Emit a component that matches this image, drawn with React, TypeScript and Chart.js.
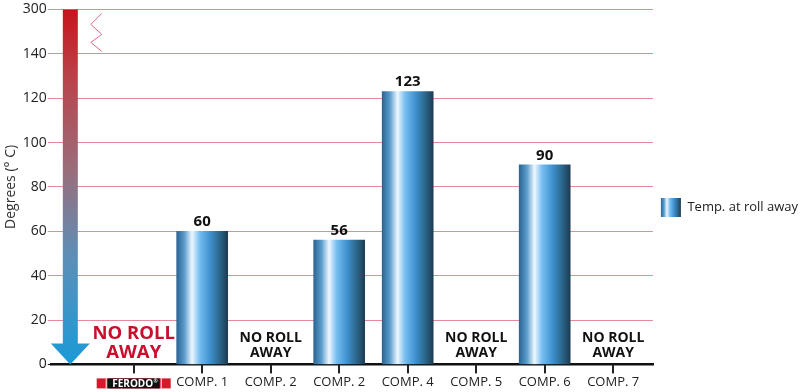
import React, { useEffect, useRef } from 'react';
import { Chart, registerables } from 'chart.js';

Chart.register(...registerables);

// ---------- data ----------
const categories = ['FERODO', 'COMP. 1', 'COMP. 2', 'COMP. 2', 'COMP. 4', 'COMP. 5', 'COMP. 6', 'COMP. 7'];
const tempAtRollAway: (number | null)[] = [null, 60, null, 56, 123, null, 90, null];
const seriesLabel = 'Temp. at roll away';
const yTickValues = [0, 20, 40, 60, 80, 100, 120, 140, 160];
const yTickLabels = ['0', '20', '40', '60', '80', '100', '120', '140', '300'];
const yTitle = 'Degrees (° C)';
const noRollAwayLines = ['NO ROLL', 'AWAY'];
const logoText = 'FERODO';

const FONT = "'Open Sans', 'Noto Sans', sans-serif";
const LEGEND_BOX_W = 20;
const LEGEND_BOX_H = 19;
const BAR_W = 51;

function barGradient(ctx: CanvasRenderingContext2D, x0: number, x1: number) {
  const g = ctx.createLinearGradient(x0, 0, x1, 0);
  g.addColorStop(0, '#2b6594');
  g.addColorStop(0.15, '#5a9ccc');
  g.addColorStop(0.3, '#eef7ff');
  g.addColorStop(0.45, '#76bdf0');
  g.addColorStop(0.65, '#3f92d0');
  g.addColorStop(0.85, '#2a6488');
  g.addColorStop(1, '#1d3d52');
  return g;
}

const decorPlugin = {
  id: 'decor',
  beforeDraw(chart: any) {
    const lg = chart.legend;
    if (lg && lg.legendHitBoxes && lg.legendItems && lg.legendHitBoxes[0]) {
      const hb = lg.legendHitBoxes[0];
      lg.legendItems[0].fillStyle = barGradient(chart.ctx, hb.left, hb.left + LEGEND_BOX_W);
    }
  },
  beforeDatasetDraw(chart: any) {
    // temperature arrow + scale break
    const ctx = chart.ctx as CanvasRenderingContext2D;
    const { left, top } = chart.chartArea;
    const ys = chart.scales.y;
    const y0 = ys.getPixelForValue(0);
    const yTop = ys.getPixelForValue(160);
    const headTop = y0 - 21;
    ctx.save();
    const g = ctx.createLinearGradient(0, yTop, 0, y0);
    g.addColorStop(0, '#c8141c');
    g.addColorStop(0.2, '#b8454c');
    g.addColorStop(0.45, '#9a6d7a');
    g.addColorStop(0.7, '#5c8fb8');
    g.addColorStop(1, '#1a9ad8');
    ctx.fillStyle = g;
    ctx.beginPath();
    ctx.moveTo(left + 12, yTop);
    ctx.lineTo(left + 27, yTop);
    ctx.lineTo(left + 27, headTop);
    ctx.lineTo(left + 39, headTop);
    ctx.lineTo(left + 19.5, y0);
    ctx.lineTo(left + 0, headTop);
    ctx.lineTo(left + 12, headTop);
    ctx.closePath();
    ctx.fill();
    // zigzag break
    ctx.strokeStyle = '#d76a7a';
    ctx.lineWidth = 1;
    ctx.beginPath();
    ctx.moveTo(left + 51, top + 4);
    ctx.lineTo(left + 40, top + 15);
    ctx.lineTo(left + 51, top + 25);
    ctx.lineTo(left + 40, top + 33);
    ctx.lineTo(left + 51, top + 42);
    ctx.stroke();
    ctx.restore();
  },
  afterDraw(chart: any) {
    const ctx = chart.ctx as CanvasRenderingContext2D;
    const xs = chart.scales.x;
    const ys = chart.scales.y;
    const y0 = ys.getPixelForValue(0);
    ctx.save();
    // category tick marks
    ctx.fillStyle = '#222';
    categories.forEach((c, i) => {
      const x = Math.round(xs.getPixelForValue(i + 1));
      ctx.fillRect(x - 1, y0, 2, 9);
    });
    ctx.textAlign = 'center';
    // value labels
    const meta = chart.getDatasetMeta(0);
    ctx.fillStyle = '#111';
    ctx.font = `bold 15px ${FONT}`;
    ctx.textBaseline = 'alphabetic';
    meta.data.forEach((el: any, i: number) => {
      const v = tempAtRollAway[i];
      if (v == null) return;
      const p = el.getProps(['x', 'y'], true);
      ctx.fillText(String(v), p.x, p.y - 5);
    });
    // NO ROLL AWAY
    ctx.textBaseline = 'middle';
    tempAtRollAway.forEach((v, i) => {
      if (v != null) return;
      const x = xs.getPixelForValue(i + 1);
      if (i === 0) {
        ctx.fillStyle = '#c8102e';
        ctx.font = `bold 18.5px ${FONT}`;
        ctx.fillText(noRollAwayLines[0], x, y0 - 31);
        ctx.fillText(noRollAwayLines[1], x, y0 - 12);
      } else {
        ctx.fillStyle = '#111';
        ctx.font = `bold 14px ${FONT}`;
        ctx.fillText(noRollAwayLines[0], x, y0 - 26);
        ctx.fillText(noRollAwayLines[1], x, y0 - 11);
      }
    });
    // logo in place of first category label
    const lx = xs.getPixelForValue(1);
    const ly = y0 + 14;
    ctx.fillStyle = '#d41a2a';
    ctx.fillRect(lx - 37, ly, 74, 10);
    ctx.fillStyle = '#ffffff';
    ctx.fillRect(lx - 28, ly, 1, 10);
    ctx.fillRect(lx + 27, ly, 1, 10);
    ctx.fillStyle = '#111';
    ctx.fillRect(lx - 26, ly, 52, 10);
    ctx.fillStyle = '#ffffff';
    ctx.font = `bold 10px ${FONT}`;
    ctx.textBaseline = 'middle';
    ctx.fillText(logoText, lx - 1, ly + 5.5);
    ctx.font = `bold 5px ${FONT}`;
    ctx.fillText('®', lx + 22, ly + 3);
    ctx.restore();
  },
};

export default function App() {
  const ref = useRef<HTMLCanvasElement | null>(null);
  useEffect(() => {
    document.body.style.margin = '0';
    const canvas = ref.current;
    if (!canvas) return;
    Chart.defaults.font.family = FONT;
    const chart = new Chart(canvas, {
      type: 'bar',
      data: {
        datasets: [
          {
            label: seriesLabel,
            data: categories.map((c, i) => ({ x: i + 1, y: tempAtRollAway[i] })) as any,
            backgroundColor: (c: any) => {
              const xs = c.chart.scales && c.chart.scales.x;
              if (c.type !== 'data' || !xs || !isFinite(xs.left)) return '#3f92d0';
              const x = xs.getPixelForValue(c.dataIndex + 1);
              if (!isFinite(x)) return '#3f92d0';
              return barGradient(c.chart.ctx, x - BAR_W / 2, x + BAR_W / 2);
            },
            borderWidth: 0,
            barThickness: BAR_W,
          },
        ],
      },
      options: {
        responsive: false,
        animation: false,
        layout: { padding: { left: 3, top: 0, right: -8, bottom: 0 } },
        plugins: {
          legend: {
            position: 'right',
            align: 'center',
            title: { display: true, text: '', font: { size: 10, lineHeight: 1 }, padding: { top: 13, bottom: 0 } },
            labels: {
              boxWidth: LEGEND_BOX_W,
              boxHeight: LEGEND_BOX_H,
              color: '#222',
              font: { size: 13, family: FONT },
              padding: 8,
            },
          },
          tooltip: { enabled: false },
        },
        scales: {
          x: {
            type: 'linear',
            offset: false,
            min: -0.21,
            max: 8.58,
            afterBuildTicks: (scale: any) => {
              scale.ticks = categories.map((c, i) => ({ value: i + 1 }));
            },
            ticks: {
              autoSkip: false,
              maxRotation: 0,
              padding: 2,
              color: (c: any) => (c.index === 0 ? 'rgba(0,0,0,0)' : '#222'),
              font: { size: 13, family: FONT },
              callback: (v: any) => categories[Math.round(v) - 1] ?? '',
            },
            grid: { offset: false, drawOnChartArea: false, drawTicks: true, tickLength: 8, color: '#111', lineWidth: 2 },
            border: { display: true, color: '#111', width: 2.5 },
          },
          y: {
            type: 'linear',
            min: 0,
            max: 160,
            afterBuildTicks: (scale: any) => {
              scale.ticks = yTickValues.map((v) => ({ value: v }));
            },
            ticks: {
              padding: 1,
              color: '#222',
              font: { size: 14, family: FONT },
              callback: (v: any) => yTickLabels[yTickValues.indexOf(v)] ?? '',
            },
            grid: {
              color: (c: any) => (c.tick && c.tick.value === 0 ? '#111' : '#e48a9a'),
              lineWidth: 1,
              tickLength: 3,
            },
            border: { display: false },
            title: { display: true, text: yTitle, color: '#333', font: { size: 14, family: FONT }, padding: { top: 0, bottom: 2 } },
          },
        },
      },
      plugins: [decorPlugin],
    });
    return () => chart.destroy();
  }, []);
  return <canvas ref={ref} width={800} height={392} style={{ display: 'block' }} />;
}
